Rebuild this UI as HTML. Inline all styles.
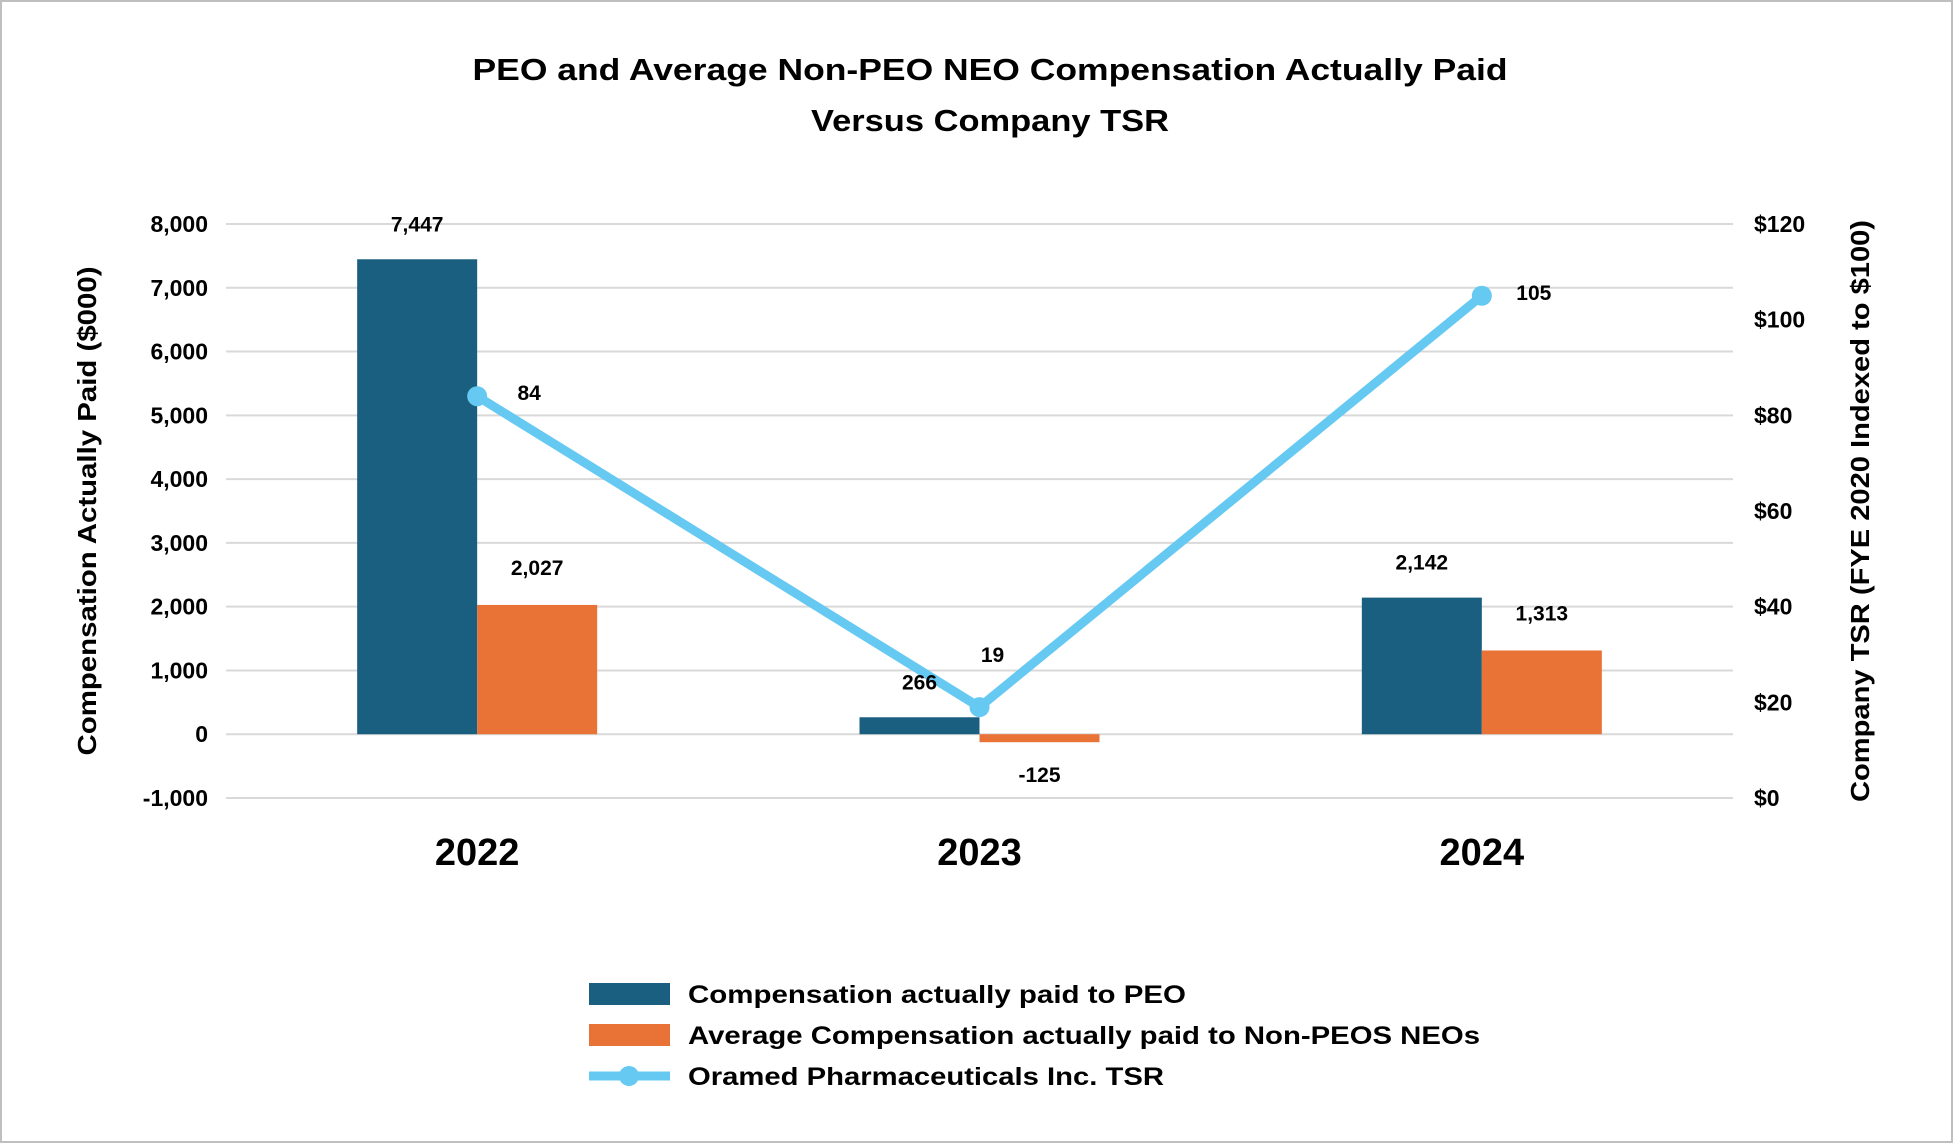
<!DOCTYPE html>
<html><head><meta charset="utf-8">
<style>
html,body{margin:0;padding:0;background:#fff;}
svg{display:block;font-family:"Liberation Sans",Arial,sans-serif;font-weight:bold;}
</style></head>
<body>
<svg id="chart" width="1953" height="1143" viewBox="0 0 1953 1143">
<rect x="1" y="1" width="1951" height="1141" fill="#fff" stroke="#bfbfbf" stroke-width="2"/>
<text x="990" y="80" text-anchor="middle" font-size="31" textLength="1035" lengthAdjust="spacingAndGlyphs">PEO and Average Non-PEO NEO Compensation Actually Paid</text>
<text x="990" y="131" text-anchor="middle" font-size="31" textLength="358" lengthAdjust="spacingAndGlyphs">Versus Company TSR</text>
<g id="grid"></g><g id="bars"></g><g id="line"></g><g id="labels"></g>
<text transform="translate(96,511) rotate(-90)" text-anchor="middle" font-size="26" textLength="489" lengthAdjust="spacingAndGlyphs">Compensation Actually Paid ($000)</text>
<text transform="translate(1869,511) rotate(-90)" text-anchor="middle" font-size="26" textLength="582" lengthAdjust="spacingAndGlyphs">Company TSR (FYE 2020 Indexed to $100)</text>
<g>
<rect x="589" y="983" width="81" height="22" fill="#1b5f80"/>
<text x="688" y="1003" font-size="25" textLength="498" lengthAdjust="spacingAndGlyphs">Compensation actually paid to PEO</text>
<rect x="589" y="1024" width="81" height="22" fill="#e97236"/>
<text x="688" y="1044" font-size="25" textLength="792" lengthAdjust="spacingAndGlyphs">Average Compensation actually paid to Non-PEOS NEOs</text>
<line x1="589" y1="1076" x2="670" y2="1076" stroke="#66c9f2" stroke-width="9"/>
<circle cx="629" cy="1076" r="10" fill="#66c9f2"/>
<text x="688" y="1085" font-size="25" textLength="476" lengthAdjust="spacingAndGlyphs">Oramed Pharmaceuticals Inc. TSR</text>
</g>
</svg>
<script>
const categories = ["2022", "2023", "2024"];
const peoValues = [7447, 266, 2142];
const nonPeoValues = [2027, -125, 1313];
const tsrValues = [84, 19, 105];
const leftTicks = [-1000, 0, 1000, 2000, 3000, 4000, 5000, 6000, 7000, 8000];
const rightTicks = [0, 20, 40, 60, 80, 100, 120];

const NS = "http://www.w3.org/2000/svg";
const plotL = 226, plotR = 1733, yTop = 224, yBot = 798;
const yL = v => yBot - (v - (-1000)) / 9000 * (yBot - yTop);
const yR = v => yBot - v / 120 * (yBot - yTop);
const band = (plotR - plotL) / categories.length;
const xC = i => plotL + band * (i + 0.5);
const barW = 120;
function mk(tag, attrs, parent, text) {
  const e = document.createElementNS(NS, tag);
  for (const k in attrs) e.setAttribute(k, attrs[k]);
  if (text !== undefined) e.textContent = text;
  document.getElementById(parent).appendChild(e);
  return e;
}
const fmt = v => (v < 0 ? "-" : "") + Math.abs(v).toLocaleString("en-US");

leftTicks.forEach(t => {
  const g = mk("line", {x1: plotL, x2: plotR, y1: yL(t), y2: yL(t), stroke: "#d9d9d9", "stroke-width": 2}, "grid");
  
  
  const l = mk("text", {x: 208, y: yL(t) + 8, "text-anchor": "end", "font-size": 23}, "grid", fmt(t));
  
  
});
rightTicks.forEach(t => {
  const l = mk("text", {x: 1754, y: yR(t) + 8, "font-size": 23}, "grid", "$" + t);
  
  
});
categories.forEach((c, i) => {
  const l = mk("text", {x: xC(i), y: 865, "text-anchor": "middle", "font-size": 38}, "labels", c);
  
  
  const v1 = peoValues[i], v2 = nonPeoValues[i];
  const b1 = mk("rect", {x: xC(i) - barW, y: Math.min(yL(v1), yL(0)), width: barW, height: Math.abs(yL(v1) - yL(0)), fill: "#1b5f80"}, "bars");
  
  
  const b2 = mk("rect", {x: xC(i), y: Math.min(yL(v2), yL(0)), width: barW, height: Math.abs(yL(v2) - yL(0)), fill: "#e97236"}, "bars");
  
  
  const t1 = mk("text", {x: xC(i) - barW / 2, y: (v1 >= 0 ? yL(v1) - 36 : yL(v1) + 34) + 8, "text-anchor": "middle", "font-size": 21}, "labels", fmt(v1));
  
  
  const t2 = mk("text", {x: xC(i) + barW / 2, y: (v2 >= 0 ? yL(v2) - 38 : yL(v2) + 32) + 8, "text-anchor": "middle", "font-size": 21}, "labels", fmt(v2));
  
  
});
const pts = tsrValues.map((v, i) => xC(i) + "," + yR(v)).join(" ");
const pl = mk("polyline", {points: pts, fill: "none", stroke: "#66c9f2", "stroke-width": 9, "stroke-linejoin": "round"}, "line");


tsrValues.forEach((v, i) => {
  const d = mk("circle", {cx: xC(i), cy: yR(v), r: 10, fill: "#66c9f2"}, "line");
  
  
  const isMin = v === Math.min(...tsrValues);
  const lx = isMin ? xC(i) + 13 : xC(i) + 52;
  const ly = isMin ? yR(v) - 53 : yR(v) - 4;
  const t = mk("text", {x: lx, y: ly + 8, "text-anchor": "middle", "font-size": 21}, "labels", String(v));
  
  
});
</script>
</body></html>
